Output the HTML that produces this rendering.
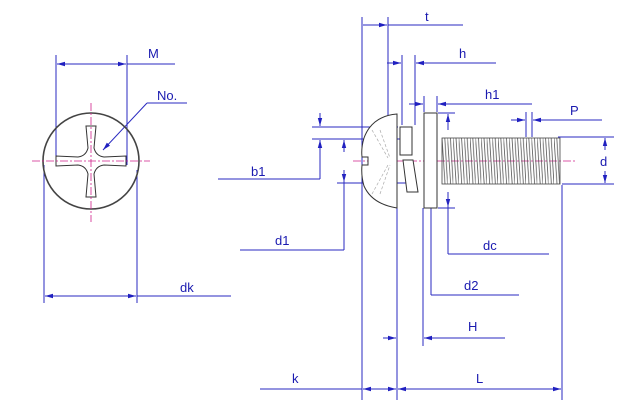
<!DOCTYPE html>
<html><head><meta charset="utf-8"><style>
html,body{margin:0;padding:0;background:#fff}
svg{display:block}
text{font-family:"Liberation Sans",sans-serif;font-size:13px;fill:#1a1ab0}
</style></head><body>
<svg width="628" height="407" viewBox="0 0 628 407" xmlns="http://www.w3.org/2000/svg">
<defs>
<marker id="a" markerWidth="8" markerHeight="6" refX="8" refY="3" orient="auto" markerUnits="userSpaceOnUse"><path d="M0,0.8 L8,3 L0,5.2z" fill="#2020c0"/></marker>
<pattern id="th" x="442" y="138" width="5.6" height="46" patternUnits="userSpaceOnUse">
<path d="M0,0 L3,46 M2.8,0 L5.6,46" stroke="#555" stroke-width="0.8" fill="none"/>
</pattern>
</defs>
<g stroke="#2a2ac0" stroke-width="1" fill="none">
<!-- left view dims -->
<line x1="56" y1="55" x2="56" y2="165"/>
<line x1="127" y1="55" x2="127" y2="165"/>
<line x1="90" y1="64" x2="57" y2="64" marker-end="url(#a)"/>
<line x1="90" y1="64" x2="126" y2="64" marker-end="url(#a)"/>
<line x1="127" y1="64" x2="175" y2="64"/>
<line x1="187" y1="103" x2="147" y2="103"/>
<line x1="147" y1="103" x2="103" y2="150" marker-end="url(#a)"/>
<line x1="44" y1="165" x2="44" y2="303"/>
<line x1="137" y1="170" x2="137" y2="303"/>
<line x1="90" y1="296" x2="45" y2="296" marker-end="url(#a)"/>
<line x1="90" y1="296" x2="136" y2="296" marker-end="url(#a)"/>
<line x1="137" y1="296" x2="231" y2="296"/>
<!-- t -->
<line x1="362" y1="17" x2="362" y2="400"/>
<line x1="388" y1="17" x2="388" y2="157"/>
<line x1="363" y1="25" x2="387" y2="25" marker-end="url(#a)"/>
<line x1="388" y1="25" x2="463" y2="25"/>
<!-- h -->
<line x1="402" y1="55" x2="402" y2="125"/>
<line x1="415" y1="55" x2="415" y2="125"/>
<line x1="387" y1="63" x2="401" y2="63" marker-end="url(#a)"/>
<line x1="430" y1="63" x2="416" y2="63" marker-end="url(#a)"/>
<line x1="430" y1="63" x2="496" y2="63"/>
<!-- h1 -->
<line x1="424" y1="96" x2="424" y2="112"/>
<line x1="437" y1="96" x2="437" y2="112"/>
<line x1="409" y1="104" x2="423" y2="104" marker-end="url(#a)"/>
<line x1="452" y1="104" x2="438" y2="104" marker-end="url(#a)"/>
<line x1="452" y1="104" x2="532" y2="104"/>
<!-- p -->
<line x1="526" y1="112" x2="526" y2="137"/>
<line x1="532" y1="112" x2="532" y2="137"/>
<line x1="511" y1="120" x2="525" y2="120" marker-end="url(#a)"/>
<line x1="547" y1="120" x2="533" y2="120" marker-end="url(#a)"/>
<line x1="547" y1="120" x2="602" y2="120"/>
<!-- d -->
<line x1="558" y1="137" x2="614" y2="137"/>
<line x1="562" y1="184" x2="614" y2="184"/>
<line x1="605" y1="150" x2="605" y2="138" marker-end="url(#a)"/>
<line x1="605" y1="171" x2="605" y2="183" marker-end="url(#a)"/>
<!-- b1 -->
<line x1="312" y1="127" x2="398" y2="127"/>
<line x1="312" y1="139" x2="400" y2="139"/>
<line x1="320" y1="113" x2="320" y2="126" marker-end="url(#a)"/>
<line x1="320" y1="152" x2="320" y2="140" marker-end="url(#a)"/>
<line x1="320" y1="152" x2="320" y2="179"/>
<line x1="218" y1="179" x2="320" y2="179"/>
<!-- d1 -->
<line x1="337" y1="183" x2="410" y2="183"/>
<line x1="344" y1="152" x2="344" y2="140" marker-end="url(#a)"/>
<line x1="344" y1="170" x2="344" y2="182" marker-end="url(#a)"/>
<line x1="344" y1="170" x2="344" y2="250"/>
<line x1="240" y1="250" x2="344" y2="250"/>
<!-- d2 -->
<line x1="431" y1="152" x2="431" y2="140" marker-end="url(#a)"/>
<line x1="431" y1="170" x2="431" y2="182" marker-end="url(#a)"/>
<line x1="431" y1="208" x2="431" y2="295"/>
<line x1="431" y1="295" x2="519" y2="295"/>
<!-- dc -->
<line x1="438" y1="113" x2="455" y2="113"/>
<line x1="438" y1="208" x2="455" y2="208"/>
<line x1="448" y1="130" x2="448" y2="114" marker-end="url(#a)"/>
<line x1="448" y1="192" x2="448" y2="207" marker-end="url(#a)"/>
<line x1="448" y1="192" x2="448" y2="254"/>
<line x1="448" y1="254" x2="549" y2="254"/>
<!-- H / k / L -->
<line x1="397" y1="208" x2="397" y2="400"/>
<line x1="423" y1="208" x2="423" y2="346"/>
<line x1="383" y1="338" x2="396" y2="338" marker-end="url(#a)"/>
<line x1="438" y1="338" x2="424" y2="338" marker-end="url(#a)"/>
<line x1="438" y1="338" x2="505" y2="338"/>
<line x1="562" y1="185" x2="562" y2="400"/>
<line x1="260" y1="389" x2="362" y2="389"/>
<line x1="380" y1="389" x2="363" y2="389" marker-end="url(#a)"/>
<line x1="380" y1="389" x2="396" y2="389" marker-end="url(#a)"/>
<line x1="420" y1="389" x2="398" y2="389" marker-end="url(#a)"/>
<line x1="420" y1="389" x2="540" y2="389"/>
<line x1="540" y1="389" x2="561" y2="389" marker-end="url(#a)"/>
</g>
<!-- left view drawing -->
<circle cx="91" cy="161" r="48" fill="none" stroke="#444" stroke-width="1.6"/>
<path d="M86,126 L96,126 L94,148 Q96,156 104,157 L126,156 L126,166 L104,165 Q96,166 94,174 L96,197 L86,197 L88,174 Q86,166 78,165 L56,166 L56,156 L78,157 Q86,156 88,148 Z" fill="none" stroke="#333" stroke-width="1"/>
<g stroke="#d0208a" stroke-width="0.8" stroke-dasharray="8,2,2,2">
<line x1="32" y1="161" x2="150" y2="161"/><line x1="91" y1="103" x2="91" y2="222"/>
<line x1="353" y1="161" x2="575" y2="161"/>
</g>
<!-- head -->
<path d="M397,114 Q372,116 364,138 Q361,148 362,157 L368,157 L368,165 L362,165 Q361,176 364,186 Q372,204 397,208 Z" fill="#fff" stroke="#333" stroke-width="1"/>
<g stroke="#aaa" stroke-width="0.7" stroke-dasharray="3,2" fill="none">
<path d="M372,130 L388,158 M380,130 L390,158 M372,194 L388,165 M380,194 L390,165"/>
</g>
<!-- lock washer -->
<path d="M400,127 L412,127 L412,155 L400,155 Z" fill="#fff" stroke="#333"/>
<path d="M403,160 L413,160 L418,192 L407,192 Z" fill="#fff" stroke="#333"/>
<!-- flat washer -->
<rect x="424" y="113" width="13" height="95" fill="#fff" stroke="#333"/>
<!-- threads -->
<rect x="442" y="138" width="118" height="46" fill="url(#th)" stroke="#444" stroke-width="0.8"/>
<g fill="#1a1ab0">
<text x="148" y="58" font-size="12">M</text>
<text x="157" y="100" font-size="12">No.</text>
<text x="180" y="292">dk</text>
<text x="425" y="21">t</text>
<text x="459" y="58">h</text>
<text x="485" y="99">h1</text>
<text x="570" y="115">P</text>
<text x="600" y="166">d</text>
<text x="251" y="176">b1</text>
<text x="275" y="245">d1</text>
<text x="483" y="250">dc</text>
<text x="464" y="290">d2</text>
<text x="468" y="331">H</text>
<text x="292" y="383">k</text>
<text x="476" y="383">L</text>
</g>
</svg>
</body></html>
